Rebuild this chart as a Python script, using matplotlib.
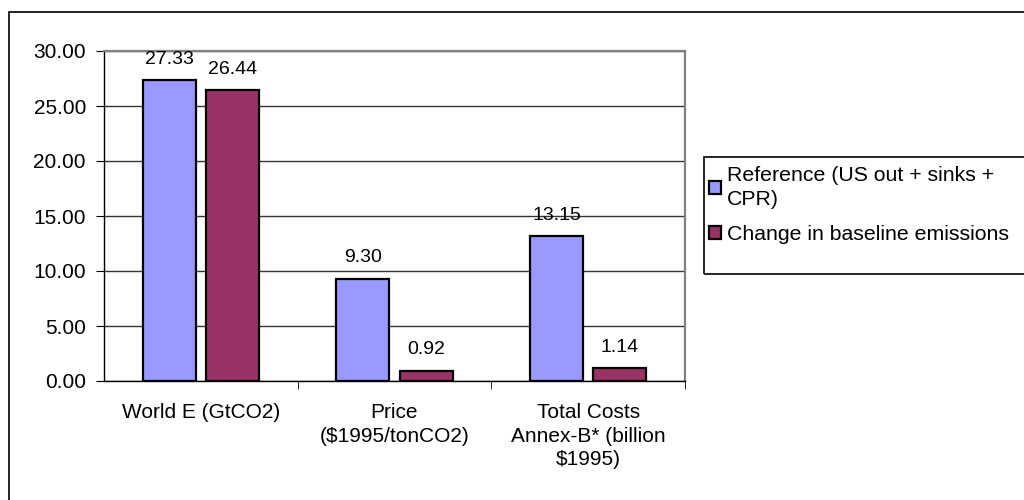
import numpy as np
import matplotlib.pyplot as plt
from matplotlib.patches import Rectangle

plt.rcParams['font.family'] = ['Liberation Sans', 'DejaVu Sans']

categories = ['World E (GtCO2)', 'Price\n($1995/tonCO2)', 'Total Costs\nAnnex-B* (billion\n$1995)']
reference = [27.33, 9.30, 13.15]
change = [26.44, 0.92, 1.14]
series_names = ['Reference (US out + sinks +\nCPR)', 'Change in baseline emissions']
colors = ['#9999FF', '#993366']

fig = plt.figure(figsize=(10.24, 5.0), dpi=100)
# outer chart border (only left and top edges are inside the picture)
fig.patches.append(Rectangle((9/1024, -0.5), 2, 1.5 - 12/500, transform=fig.transFigure,
                             fill=False, edgecolor='black', linewidth=1.2))
# legend frame
fig.patches.append(Rectangle((704/1024, 1-274/500), 0.5, 117/500, transform=fig.transFigure,
                             fill=False, edgecolor='black', linewidth=1.2))
ax = fig.add_axes([104/1024, 1-381/500, 581/1024, 330/500])

x = np.arange(len(categories))
w = 0.274
b1 = ax.bar(x - 0.163, reference, w, color=colors[0], edgecolor='black', linewidth=1.6,
            label=series_names[0], zorder=3)
b2 = ax.bar(x + 0.163, change, w, color=colors[1], edgecolor='black', linewidth=1.6,
            label=series_names[1], zorder=3)
for bars in (b1, b2):
    for r in bars:
        ax.annotate('%.2f' % r.get_height(), (r.get_x() + r.get_width()/2, r.get_height()),
                    xytext=(0, 9), textcoords='offset points', ha='center', va='bottom',
                    fontsize=14)

ax.set_xlim(-0.5, 2.5)
ax.set_ylim(0, 30)
ax.set_yticks(np.arange(0, 31, 5))
ax.set_yticklabels(['%.2f' % v for v in np.arange(0, 31, 5)], fontsize=15)
ax.yaxis.grid(True, color='#333333', linewidth=1.0, zorder=0)
ax.set_xticks(x)
ax.set_xticklabels(categories, fontsize=15, linespacing=1.3)
ax.set_xticks([0.5, 1.5, 2.5], minor=True)
ax.tick_params(axis='x', which='major', length=0, pad=16)
ax.tick_params(axis='x', which='minor', length=6, direction='out')
ax.tick_params(axis='y', length=6, direction='out', pad=7)
ax.spines['top'].set_color('gray')
ax.spines['top'].set_linewidth(1.6)
ax.spines['right'].set_color('gray')
ax.spines['right'].set_linewidth(1.6)
ax.spines['left'].set_linewidth(1.0)
ax.spines['bottom'].set_linewidth(1.0)

leg = ax.legend(loc='upper left', bbox_to_anchor=(705/1024, 1-162/500), bbox_transform=fig.transFigure,
                fontsize=15.3, frameon=False,
                handlelength=0.55, handleheight=0.55, handletextpad=0.3, borderpad=0.2,
                labelspacing=0.75, borderaxespad=0)
for t in leg.get_texts():
    t.set_linespacing(1.3)
for h in leg.legend_handles:
    h.set_linewidth(1.6)

fig.savefig('out.png', dpi=100)
